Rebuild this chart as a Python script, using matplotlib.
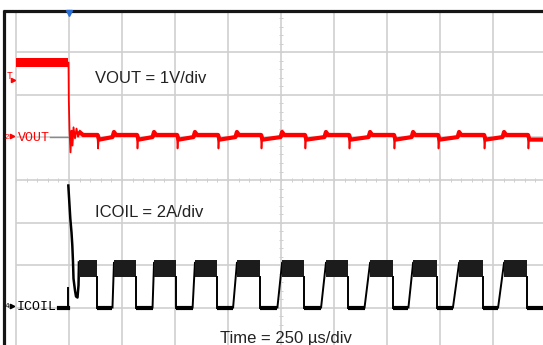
import matplotlib.pyplot as plt
import numpy as np

# scope settings
US_PER_DIV = 250
V_PER_DIV = 1
A_PER_DIV = 2
VOUT_REF_DIV = 1      # channel 2 ground marker
ICOIL_REF_DIV = -3    # channel 4 zero marker

# ICOIL switching edges (us after trigger)
high_start_us = [47, 212, 401, 594, 792, 1005, 1212, 1420, 1623, 1840, 2052]
high_end_us = [130, 316, 505, 698, 901, 1108, 1316, 1528, 1736, 1953, 2160]
low_end_us = [205, 394, 583, 774, 983, 1189, 1394, 1601, 1811, 2024, 2260]

icoil_high_top = 2.25     # A
icoil_high_bottom = 1.45  # A
icoil_ramp_top = 2.1      # A

# ICOIL just before / after the trigger
icoil_pre_us = [-47, -4.7, -4.7]
icoil_pre_a = [0, 0, 0.9]
icoil_spike_us = [-3.3, 2.4, 6.1, 11.8, 15.6, 18.9, 21.2, 28.3, 33, 40, 44.8, 47]
icoil_spike_a = [5.74, 4.8, 4.19, 3.53, 2.92, 2.12, 1.36, 0.8, 0.52, 0.47, 1.04, 2.12]

# VOUT before trigger (band) and ringing right after it
vout_pre_us = [-250, -3]
vout_pre_top = 1.86
vout_pre_bottom = 1.67
vout_ring_us = [-2.4, -0.9, 2.4, 7.1, 11.8, 16.5, 21.2, 28.3, 35.4, 42.5, 51.9, 66]
vout_ring_v = [1.76, 0.87, 0.16, -0.35, 0.16, -0.19, 0.24, -0.02, 0.21, 0.02, 0.12, 0.06]

# VOUT ripple levels (V)
vout_flat = 0.06
vout_dip = -0.05
vout_spike = -0.26
vout_dip_end = 0.01
vout_bump = 0.13


def tdiv(t):
    return 1 + np.asarray(t, dtype=float) / US_PER_DIV


def vdiv(v):
    return VOUT_REF_DIV + np.asarray(v, dtype=float) / V_PER_DIV


def idiv(a):
    return ICOIL_REF_DIV + np.asarray(a, dtype=float) / A_PER_DIV


fig = plt.figure(figsize=(5.43, 3.45), dpi=100)
ax = fig.add_axes([0, 0, 1, 1])
ax.set_xlim(-0.302, 9.943)
ax.set_ylim(-3.882, 4.235)
ax.axis('off')

# graticule
grid_c = '#cfcfcf'
ax.vlines(np.arange(0, 11), -4, 4, color=grid_c, lw=1.2, zorder=1)
ax.hlines(np.arange(-3, 4), 0, 10, color=grid_c, lw=1.2, zorder=1)
minor = np.arange(-4, 4.01, 0.2)
ax.hlines(minor, 5 - 0.035, 5 + 0.035, color=grid_c, lw=0.7, zorder=1)
minor = np.arange(0, 10.01, 0.2)
ax.vlines(minor, -0.045, 0.045, color=grid_c, lw=0.7, zorder=1)

# frame
ax.plot([-0.245, 9.943], [3.972, 3.972], color='#151515', lw=2.3, solid_capstyle='butt', zorder=5)
ax.plot([-0.225, -0.225], [3.99, -3.9], color='#151515', lw=2.3, solid_capstyle='butt', zorder=5)
ax.plot([1.0], [3.93], marker='v', color='#2a6fd6', ms=4.5, zorder=6)

# VOUT trace
ax.fill_between(tdiv(vout_pre_us), vdiv(vout_pre_bottom), vdiv(vout_pre_top),
                color='#ff0000', lw=0, zorder=3)
ax.plot(tdiv(vout_ring_us), vdiv(vout_ring_v), color='#ff0000', lw=1.3, zorder=3)

vt = [vout_ring_us[-2], vout_ring_us[-1]]
vv = [vout_ring_v[-2], vout_ring_v[-1]]
for k, e in enumerate(high_end_us):
    vt += [e + 5, e + 12]
    vv += [vout_flat, vout_dip]
    # thin spike at the end of each current burst
    ax.plot(tdiv([e + 4, e + 7, e + 10]), vdiv([vout_flat, vout_spike, vout_dip]),
            color='#ff0000', lw=1.2, zorder=3)
    if k + 1 < len(high_start_us):
        s = high_start_us[k + 1]
        vt += [s - 7, s, s + 10]
        vv += [vout_dip_end, vout_bump, vout_flat]
    else:
        vt += [2300]
        vv += [vout_dip]
ax.plot(tdiv(vt), vdiv(vv), color='#ff0000', lw=3.0, zorder=3)

# ICOIL trace
ax.plot(tdiv(icoil_pre_us), idiv(icoil_pre_a), color='black', lw=1.4, zorder=3)
ax.plot(tdiv(icoil_pre_us[:2]), idiv(icoil_pre_a[:2]), color='black', lw=3, zorder=3)
ax.plot(tdiv(icoil_spike_us), idiv(icoil_spike_a), color='black', lw=1.8, zorder=3)
for k in range(len(high_start_us)):
    s, e, r = high_start_us[k], high_end_us[k], low_end_us[k]
    ax.fill_between(tdiv([s, e]), idiv(icoil_high_bottom), idiv(icoil_high_top),
                    color='#1c1c1c', lw=0, zorder=3)
    ax.plot(tdiv([e, e]), idiv([icoil_high_bottom, 0]), color='black', lw=1.4, zorder=3)
    ax.plot(tdiv([e, r]), idiv([0, 0]), color='black', lw=3, solid_capstyle='butt', zorder=3)
    if k + 1 < len(high_start_us):
        ax.plot(tdiv([r, high_start_us[k + 1]]), idiv([0, icoil_ramp_top]),
                color='black', lw=1.4, zorder=3)

# channel markers
mono = 'Liberation Mono'
ax.plot([0.64, 0.98], [VOUT_REF_DIV, VOUT_REF_DIV], color='#8a8a8a', lw=1, zorder=2)
ax.text(0.035, 0.92, 'VOUT', color='#ff0000', fontsize=9.5, family=mono, va='baseline', zorder=6)
ax.text(-0.165, 1.0, '2', color='#ff0000', fontsize=5.5, family=mono, ha='center', va='center', zorder=6)
ax.plot([-0.075], [1.03], marker='>', color='#ff0000', ms=3.2, zorder=6)
ax.text(0.02, -3.07, 'ICOIL', color='black', fontsize=9.5, family=mono, va='baseline', zorder=6)
ax.text(-0.165, -2.97, '4', color='black', fontsize=5.5, family=mono, ha='center', va='center', zorder=6)
ax.plot([-0.075], [-2.97], marker='>', color='black', ms=3.2, zorder=6)
ax.text(-0.13, 2.45, 'T', color='#ff0000', fontsize=7, family=mono, ha='center', va='center', zorder=6)
ax.plot([-0.06], [2.35], marker='>', color='#ff0000', ms=3, zorder=6)

# annotations
sans = 'Liberation Sans'
ax.text(1.49, 2.28, 'VOUT = 1V/div', fontsize=12, family=sans, color='#222222', va='baseline', zorder=6)
ax.text(1.49, -0.87, 'ICOIL = 2A/div', fontsize=12, family=sans, color='#222222', va='baseline', zorder=6)
ax.text(3.85, -3.835, 'Time = 250 µs/div', fontsize=12, family=sans, color='#222222', va='baseline', zorder=6)

fig.savefig('out.png', dpi=100)
